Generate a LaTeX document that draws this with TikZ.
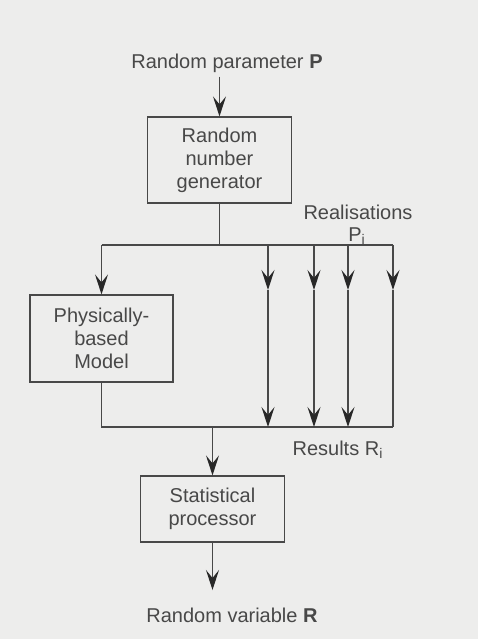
\documentclass[tikz,border=0pt]{standalone}
\usepackage{fontspec}
\setmainfont{Liberation Sans}
\usetikzlibrary{arrows.meta}
\definecolor{scan}{RGB}{237,237,236}
\definecolor{ink}{RGB}{72,72,72}
\definecolor{tipink}{RGB}{40,40,40}
\tikzset{
  blockbox/.style = {draw = ink, line width = .6pt, align = center, text = ink,
    minimum width = 72pt, inner sep = 0pt},
  labeltext/.style = {text = ink, align = center, inner sep = 2pt},
  flow/.style = {-{Stealth[length = 10pt, width = 6.5pt, inset = 4pt, color = tipink]}},
  wire/.style = {draw = ink, line width = .6pt}
}
\begin{document}
\begin{tikzpicture}[x = .5pt, y = -.5pt, font = \fontsize{10}{11.5}\selectfont]
      \fill [scan] (0,0) rectangle (478,639);
      \useasboundingbox (0,0) rectangle (478,639);
      % blocks
      \node [blockbox, minimum height = 43pt] (rng) at (219.5,160) {Random\\number\\generator};
      \node [blockbox, minimum height = 43.5pt, minimum width = 71.5pt] (model) at (101.5,338.5) {Physically-\\based\\Model};
      \node [blockbox, minimum height = 33pt] (stat) at (212.5,509) {Statistical\\processor};
      % labels
      \node [labeltext] (param) at (227,63) {Random parameter \textbf{P}};
      \node [labeltext] (real) at (358,212) {Realisations};
      \node [labeltext] (pi) at (357,236) {P\textsubscript{i}};
      \node [labeltext] (res) at (338,450) {Results R\textsubscript{i}};
      \node [labeltext] (rvar) at (232,615) {Random variable \textbf{R}};
      % bus points
      \coordinate (split) at (219.5,245);
      \coordinate (tl) at (101.5,245);
      \coordinate (tr) at (393,245);
      \coordinate (bl) at (101.5,427);
      \coordinate (br) at (393,427);
      \coordinate (join) at (212.5,427);
      \coordinate (out) at (212.5,590);
      % connectors
      \draw [wire, flow] (param.south -| rng.north) -- (rng.north);
      \draw [wire] (rng.south) -- (split);
      \draw [wire] (tl) -- (tr);
      \draw [wire, flow] (tl) -- (model.north);
      \draw [wire] (model.south) -- (bl) -- (br);
      \foreach \xi/\nm in {268/a, 314/b, 348/c} {
        \coordinate (\nm top) at (\xi,245);
        \coordinate (\nm mid) at (\xi,290);
        \coordinate (\nm bot) at (\xi,427);
        \draw [wire, flow] (\nm top) -- (\nm mid);
        \draw [wire, flow] (\nm mid) -- (\nm bot);
      }
      \coordinate (dmid) at (393,290);
      \draw [wire, flow] (tr) -- (dmid);
      \draw [wire] (dmid) -- (br);
      \draw [wire, flow] (join) -- (stat.north);
      \draw [wire, flow] (stat.south) -- (out);
\end{tikzpicture}
\end{document}
